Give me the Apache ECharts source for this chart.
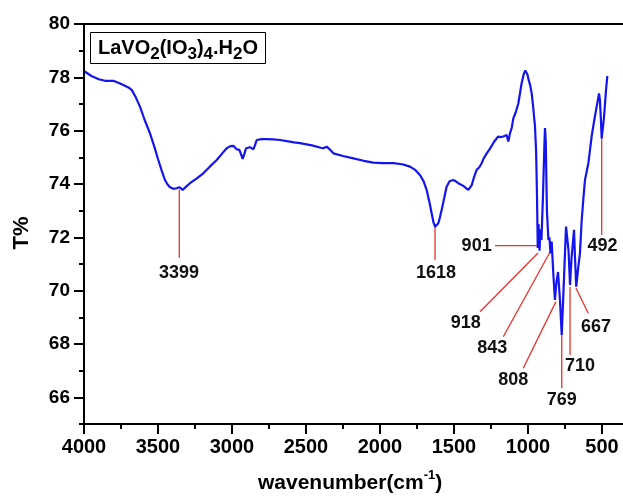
<!DOCTYPE html>
<html>
<head>
<meta charset="utf-8">
<script src="https://cdn.jsdelivr.net/npm/echarts@6/dist/echarts.min.js"></script>
<style>html,body{margin:0;padding:0;background:#fff}#c{width:623px;height:497px}</style>
</head>
<body>
<div id="c"></div>
<script>
// ---- data ----
const waveNum = [3995,3950,3900,3858,3802,3760,3734,3700,3678,3650,3622,3590,3554,3525,3498,3475,3453,3435,3419,3395,3374,3365,3356,3345,3333,3310,3284,3240,3194,3150,3103,3070,3036,3010,2991,2968,2950,2938,2928,2918,2905,2878,2856,2845,2833,2800,2766,2720,2676,2620,2580,2541,2460,2400,2383,2360,2340,2315,2250,2180,2110,2045,1980,1910,1850,1797,1760,1730,1705,1685,1665,1651,1638,1628,1616,1606,1595,1583,1565,1550,1530,1505,1488,1471,1455,1437,1420,1403,1392,1380,1365,1347,1330,1313,1300,1290,1279,1260,1250,1235,1220,1201,1185,1167,1155,1144,1138,1133,1127,1122,1110,1099,1082,1065,1043,1027,1018,1010,1003,998,985,975,965,957,953,945,939,934,929,922,916,909,899,889,885,880,872,862,855,848,840,829,818,808,797,784,772,760,743,737,726,716,706,689,682,674,662,649,637,625,615,592,570,552,536,520,514,508,502,494,486,473,464];
const transmittance = [78.22,78.05,77.93,77.87,77.87,77.78,77.71,77.62,77.53,77.25,76.9,76.4,75.9,75.4,74.9,74.5,74.15,73.98,73.88,73.82,73.84,73.82,73.88,73.82,73.78,73.9,74.03,74.2,74.4,74.65,74.9,75.12,75.34,75.42,75.43,75.3,75.28,75.1,74.94,75.1,75.34,75.38,75.3,75.45,75.65,75.68,75.68,75.67,75.65,75.6,75.56,75.53,75.45,75.36,75.34,75.4,75.3,75.15,75.05,74.96,74.87,74.8,74.78,74.78,74.74,74.65,74.52,74.34,74.1,73.78,73.3,72.9,72.55,72.4,72.42,72.53,72.75,73.03,73.5,73.9,74.1,74.15,74.1,74.03,73.98,73.93,73.85,73.78,73.85,73.96,74.25,74.53,74.62,74.78,74.95,74.9,75.15,75.3,75.25,75.53,75.65,75.78,75.76,75.78,75.82,75.84,75.7,75.59,75.75,75.9,76.1,76.46,76.7,77.03,77.78,78.15,78.26,78.22,78.1,77.95,77.7,77.4,76.9,76.4,76.2,75.2,73.5,71.6,72.5,71.5,72.3,71.9,73.5,75.5,76.1,75.6,73.0,71.9,72.0,71.4,71.84,70.65,69.65,70.3,70.7,69.65,68.34,70.0,72.4,72.46,71.5,70.21,71.2,72.28,71.2,70.15,70.8,71.4,72.65,73.5,74.15,74.78,75.78,76.4,76.9,77.4,77.15,76.5,75.71,76.1,76.53,77.5,78.05];

// peak annotations (data coordinates)
const peakText = ['3399','1618','901','918','843','808','769','710','667','492'];
const peakTipW = [3356,1628,934,932,851,811,772,716,676,502];
const peakTipT = [73.78,72.39,71.69,71.41,71.45,69.59,68.34,70.14,70.1,75.73];
const peakEndW = [3356,1628,1223,1324,1167,1032,772,716,593,502];
const peakEndT = [71.23,71.15,71.69,69.21,68.27,67.09,66.34,67.59,69.15,72.09];
const peakLabW = [3358,1622,1347,1421,1241,1099,772,649,541,496];
const peakLabT = [70.65,70.65,71.69,68.8,67.84,66.65,65.9,67.18,68.65,71.69];

const xMajor = [4000,3500,3000,2500,2000,1500,1000,500];
const xMinor = [3750,3250,2750,2250,1750,1250,750];
const yMajor = [66,68,70,72,74,76,78,80];
const yMinor = [65,67,69,71,73,75,77,79];

// ---- chart ----
const FONT = '"Liberation Sans", Arial, sans-serif';
const chart = echarts.init(document.getElementById('c'), null, {renderer: 'canvas'});

const curve = waveNum.map((w, i) => [w, transmittance[i]]);
const annData = peakText.map((t, i) => [peakTipW[i], peakTipT[i], peakEndW[i], peakEndT[i], peakLabW[i], peakLabT[i], i]);

const xBase = {type: 'value', inverse: true, min: 358, max: 4000, gridIndex: 0, splitLine: {show: false}};
const yBase = {type: 'value', min: 65, max: 80, gridIndex: 0, splitLine: {show: false}};

chart.setOption({
  animation: false,
  backgroundColor: '#fff',
  grid: {left: 84, right: 0, top: 24, bottom: 73, containLabel: false, outerBoundsMode: 'none'},
  title: {
    left: 90, top: 32,
    text: 'LaVO{s|2}(IO{s|3}){s|4}.H{s|2}O',
    borderColor: '#000', borderWidth: 1,
    padding: [1, 8, 1, 8],
    textStyle: {
      fontFamily: FONT, fontSize: 20, fontWeight: 'bold', color: '#000', lineHeight: 30,
      rich: {
        s: {fontFamily: FONT, fontSize: 17, fontWeight: 'bold', color: '#000', verticalAlign: 'bottom', lineHeight: 17}
      }
    }
  },
  xAxis: [
    Object.assign({}, xBase, {
      position: 'bottom',
      axisLine: {show: true, onZero: false, lineStyle: {color: '#000', width: 2}},
      axisTick: {show: true, inside: false, length: 10, customValues: xMajor, lineStyle: {color: '#000', width: 2}},
      axisLabel: {show: true, customValues: xMajor, formatter: v => String(v), margin: 13,
        fontFamily: FONT, fontSize: 20, fontWeight: 'bold', color: '#000'}
    }),
    Object.assign({}, xBase, {
      position: 'bottom',
      axisLine: {show: false, onZero: false},
      axisTick: {show: true, inside: false, length: 5, customValues: xMinor, lineStyle: {color: '#000', width: 2}},
      axisLabel: {show: false}
    }),
    Object.assign({}, xBase, {
      position: 'top',
      axisLine: {show: true, onZero: false, lineStyle: {color: '#000', width: 2}},
      axisTick: {show: false},
      axisLabel: {show: false}
    })
  ],
  yAxis: [
    Object.assign({}, yBase, {
      position: 'left',
      axisLine: {show: true, onZero: false, lineStyle: {color: '#000', width: 2}},
      axisTick: {show: true, inside: false, length: 10, customValues: yMajor, lineStyle: {color: '#000', width: 2}},
      axisLabel: {show: true, customValues: yMajor, formatter: v => String(v), margin: 14,
        fontFamily: FONT, fontSize: 19, fontWeight: 'bold', color: '#000'}
    }),
    Object.assign({}, yBase, {
      position: 'left',
      axisLine: {show: false, onZero: false},
      axisTick: {show: true, inside: false, length: 5, customValues: yMinor, lineStyle: {color: '#000', width: 2}},
      axisLabel: {show: false}
    })
  ],
  graphic: [
    {
      type: 'text', left: 258, top: 469,
      style: {
        text: 'wavenumber(cm{sup|-1})',
        fontFamily: FONT, fontSize: 21, fontWeight: 'bold', fill: '#000', lineHeight: 28,
        rich: {sup: {fontFamily: FONT, fontSize: 13, fontWeight: 'bold', fill: '#000', verticalAlign: 'top', lineHeight: 14}}
      }
    },
    {
      type: 'text', x: 22, y: 233, rotation: Math.PI / 2,
      style: {
        text: 'T%', fontFamily: FONT, fontSize: 22, fontWeight: 'bold', fill: '#000',
        align: 'center', verticalAlign: 'middle'
      }
    }
  ],
  series: [
    {
      type: 'line', xAxisIndex: 0, yAxisIndex: 0, data: curve,
      showSymbol: false, symbol: 'none',
      lineStyle: {color: '#1414ee', width: 2.2},
      z: 3
    },
    {
      type: 'custom', xAxisIndex: 0, yAxisIndex: 0, data: annData, z: 2, clip: false,
      renderItem: function (params, api) {
        const p1 = api.coord([api.value(0), api.value(1)]);
        const p2 = api.coord([api.value(2), api.value(3)]);
        const pl = api.coord([api.value(4), api.value(5)]);
        const idx = api.value(6);
        return {
          type: 'group',
          children: [
            {type: 'line', shape: {x1: p1[0], y1: p1[1], x2: p2[0], y2: p2[1]},
              style: {stroke: '#e6332e', lineWidth: 1.3}},
            {type: 'text', x: pl[0], y: pl[1],
              style: {text: peakText[idx], fontFamily: FONT, fontSize: 18, fontWeight: 'bold',
                fill: '#111', align: 'center', verticalAlign: 'middle'}}
          ]
        };
      }
    }
  ]
});
</script>
</body>
</html>
